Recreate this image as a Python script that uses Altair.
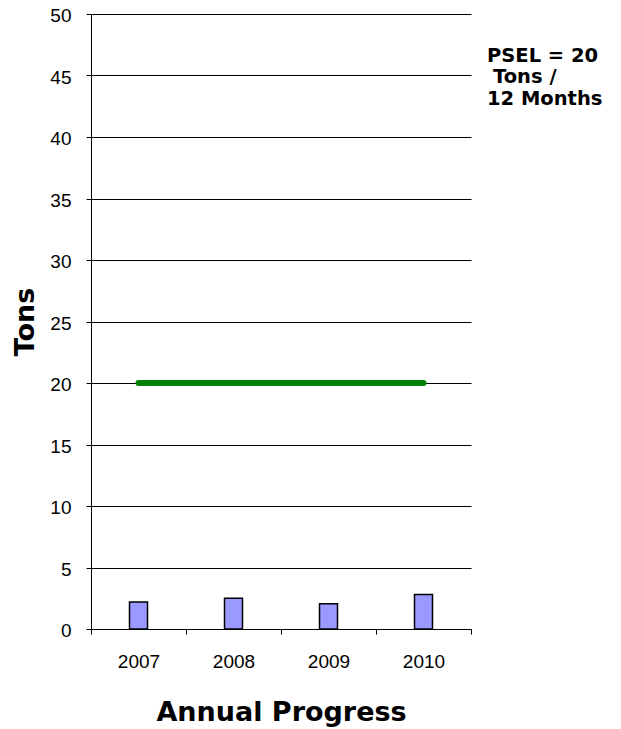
import altair as alt
import pandas as pd

years = ["2007", "2008", "2009", "2010"]
tons = [2.2, 2.5, 2.05, 2.8]
psel = [20, 20, 20, 20]
note_lines = ["PSEL = 20", "Tons /", "12 Months"]

df = pd.DataFrame({"year": years, "tons": tons, "psel": psel})

x_enc = alt.X("year:O", title="Annual Progress",
              scale=alt.Scale(paddingInner=0, paddingOuter=0),
              axis=alt.Axis(labelAngle=0, tickBand="extent", labelFont="Liberation Sans",
                            labelFontSize=19, labelColor="black", labelPadding=18,
                            tickColor="black", tickSize=5, domainColor="black",
                            titleFont="DejaVu Sans", titleFontSize=27, titleFontWeight="bold",
                            titleColor="black", titlePadding=28, grid=False))

y_enc = alt.Y("tons:Q", title="Tons",
              scale=alt.Scale(domain=[0, 50], nice=False),
              axis=alt.Axis(values=list(range(0, 51, 5)), labelFont="Liberation Sans",
                            labelFontSize=19, labelColor="black", labelPadding=15,
                            labelOffset=1.5,
                            tickColor="black", tickSize=5, domainColor="black",
                            gridColor="black", gridOpacity=1, gridWidth=1,
                            titleFont="DejaVu Sans", titleFontSize=27, titleFontWeight="bold",
                            titleColor="black", titlePadding=10))

bars = alt.Chart(df).mark_bar(size=18, fill="#9999FF", stroke="black", strokeWidth=1.5).encode(
    x=x_enc, y=y_enc)

line = alt.Chart(df).mark_line(color="#008000", strokeWidth=6, strokeCap="round").encode(
    x="year:O", y="psel:Q")

note_style = dict(align="left", baseline="top", font="DejaVu Sans", fontSize=19.5,
                  fontWeight="bold", color="black")

note_layers = []
for i, (txt, xoff) in enumerate(zip(note_lines, [396, 402, 396])):
    note_layers.append(
        alt.Chart(pd.DataFrame({"t": [txt]})).mark_text(**note_style).encode(
            text="t", x=alt.value(xoff), y=alt.value(32.5 + 21.5 * i))
    )

chart = alt.layer(bars, line, *note_layers).properties(
    width=380, height=615,
    autosize=alt.AutoSizeParams(type="none"),
    padding={"left": 83, "top": 6, "right": 140, "bottom": 100},
).configure_view(stroke=None)

chart.save("out.html", embed_options={"renderer": "svg", "actions": False})
